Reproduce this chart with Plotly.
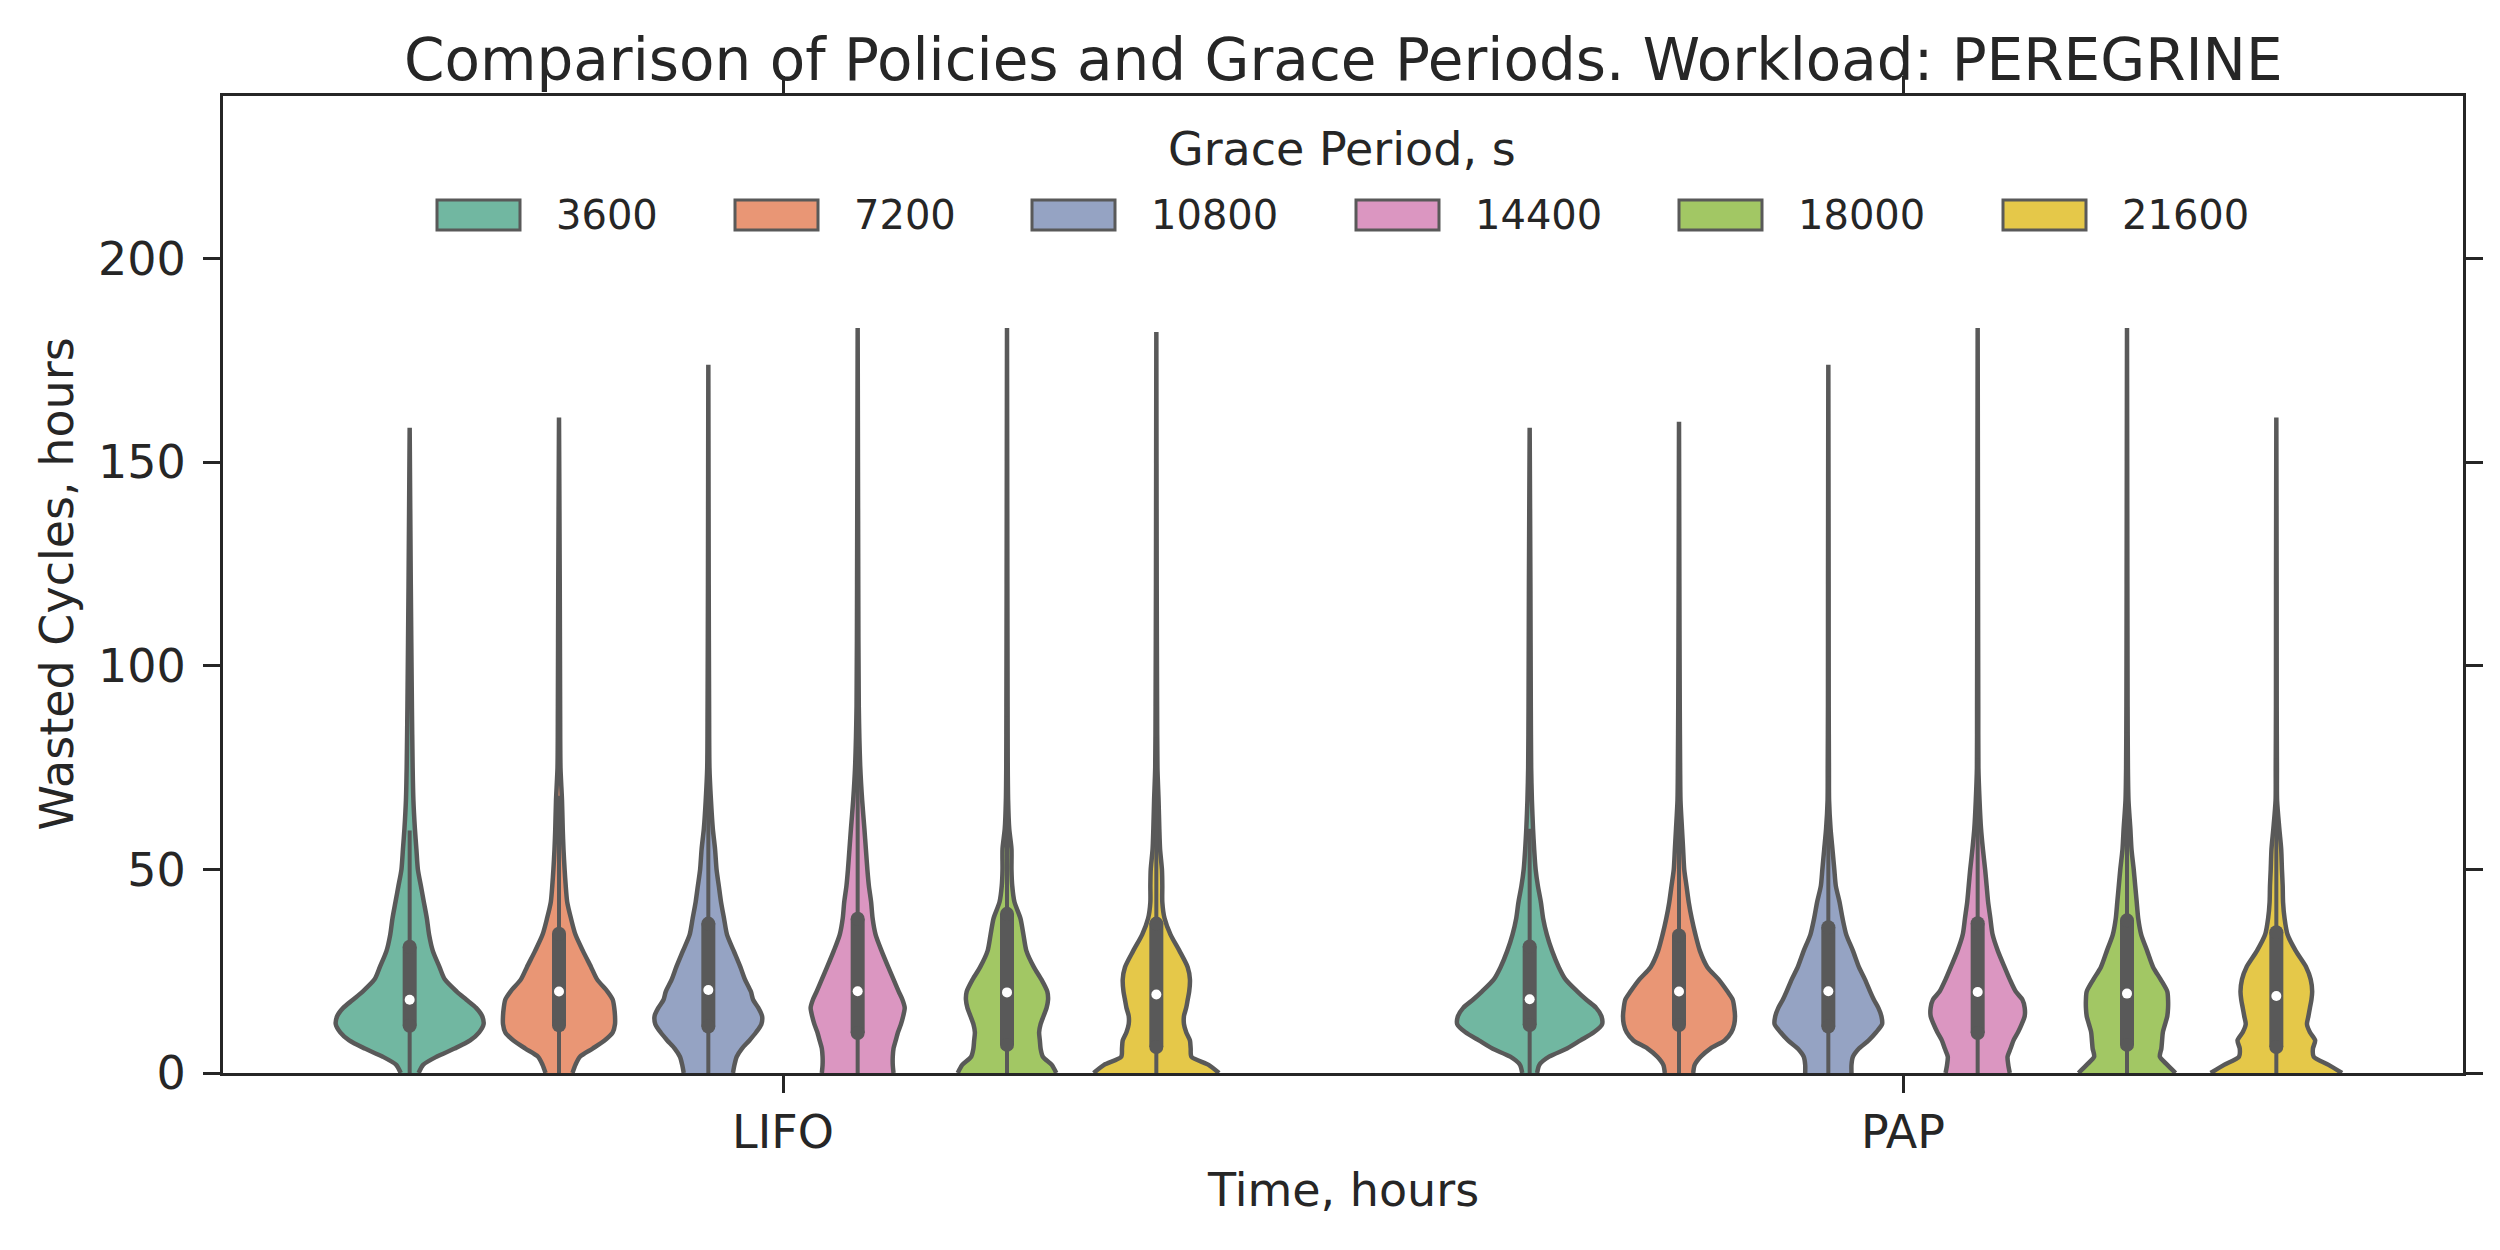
import plotly.graph_objects as go

# ---------------- data ----------------
POLICIES = ["LIFO", "PAP"]
GRACE = ["3600", "7200", "10800", "14400", "18000", "21600"]

# value levels (hours) at which violin half-widths were read
GRID_Y = [0, 2, 4, 6, 8, 10, 12, 14, 16, 18, 20, 23, 26, 30, 34, 38, 42, 46, 50, 55, 60, 67, 75, 90, 120]

# relative density (violin half-width, 1 = widest) per violin at GRID_Y
LIFO_3600 = [0.12, 0.18, 0.36, 0.60, 0.81, 0.93, 0.99, 0.97, 0.89, 0.76, 0.63, 0.47, 0.40, 0.31, 0.26, 0.23, 0.19, 0.15, 0.11, 0.09, 0.07, 0.05, 0.04, 0.03, 0.015]
LIFO_7200 = [0.18, 0.22, 0.28, 0.45, 0.61, 0.72, 0.75, 0.75, 0.74, 0.72, 0.65, 0.51, 0.43, 0.32, 0.22, 0.16, 0.11, 0.09, 0.075, 0.06, 0.05, 0.04, 0.02, 0.015, 0.01]
LIFO_10800 = [0.33, 0.35, 0.38, 0.45, 0.55, 0.64, 0.71, 0.72, 0.67, 0.60, 0.57, 0.49, 0.43, 0.34, 0.25, 0.21, 0.17, 0.14, 0.11, 0.09, 0.06, 0.035, 0.015, 0.01, 0.005]
LIFO_14400 = [0.48, 0.47, 0.47, 0.48, 0.51, 0.54, 0.58, 0.61, 0.63, 0.60, 0.55, 0.48, 0.41, 0.32, 0.24, 0.20, 0.18, 0.15, 0.13, 0.11, 0.09, 0.06, 0.035, 0.015, 0.008]
LIFO_18000 = [0.66, 0.60, 0.48, 0.45, 0.44, 0.43, 0.45, 0.49, 0.53, 0.55, 0.54, 0.46, 0.36, 0.26, 0.22, 0.18, 0.10, 0.07, 0.06, 0.06, 0.03, 0.015, 0.01, 0.008, 0.005]
LIFO_21600 = [0.84, 0.70, 0.47, 0.46, 0.45, 0.40, 0.37, 0.37, 0.40, 0.42, 0.44, 0.45, 0.42, 0.31, 0.19, 0.11, 0.08, 0.08, 0.075, 0.05, 0.04, 0.03, 0.015, 0.01, 0.005]
PAP_3600 = [0.10, 0.13, 0.26, 0.50, 0.68, 0.86, 0.97, 0.96, 0.89, 0.76, 0.64, 0.48, 0.39, 0.30, 0.23, 0.18, 0.15, 0.11, 0.08, 0.06, 0.045, 0.03, 0.02, 0.015, 0.01]
PAP_7200 = [0.19, 0.21, 0.29, 0.42, 0.61, 0.70, 0.74, 0.75, 0.74, 0.72, 0.65, 0.53, 0.38, 0.28, 0.22, 0.17, 0.13, 0.10, 0.07, 0.055, 0.04, 0.02, 0.015, 0.01, 0.005]
PAP_10800 = [0.31, 0.31, 0.33, 0.41, 0.54, 0.64, 0.72, 0.71, 0.67, 0.61, 0.56, 0.49, 0.41, 0.33, 0.24, 0.19, 0.15, 0.10, 0.08, 0.055, 0.03, 0.01, 0.008, 0.005, 0.004]
PAP_14400 = [0.43, 0.41, 0.40, 0.44, 0.48, 0.54, 0.59, 0.63, 0.63, 0.60, 0.51, 0.43, 0.36, 0.27, 0.20, 0.17, 0.14, 0.12, 0.10, 0.07, 0.045, 0.025, 0.01, 0.008, 0.005]
PAP_18000 = [0.65, 0.54, 0.44, 0.46, 0.47, 0.48, 0.51, 0.54, 0.55, 0.55, 0.54, 0.45, 0.35, 0.27, 0.19, 0.15, 0.13, 0.11, 0.09, 0.06, 0.045, 0.02, 0.012, 0.008, 0.005]
PAP_21600 = [0.88, 0.70, 0.50, 0.49, 0.52, 0.45, 0.41, 0.43, 0.45, 0.47, 0.48, 0.46, 0.40, 0.26, 0.15, 0.11, 0.09, 0.085, 0.075, 0.065, 0.04, 0.01, 0.008, 0.005, 0.004]

# maxima (violin tips), quartiles, medians, whiskers (hours)
TOP_LIFO = [158.5, 161.0, 174.0, 183.0, 183.0, 182.0]
TOP_PAP = [158.5, 160.0, 174.0, 183.0, 183.0, 161.0]
Q1_LIFO = [11.6, 11.7, 11.4, 9.8, 6.9, 6.4]
MED_LIFO = [18.0, 20.0, 20.4, 20.1, 19.8, 19.3]
Q3_LIFO = [31.0, 34.2, 36.7, 37.9, 39.1, 36.7]
WHI_LIFO = [59.6, 68.1, 74.8, 80.0, 87.5, 82.5]
WLO_LIFO = [0, 0, 0, 0, 0, 0]
Q1_PAP = [11.8, 11.8, 11.4, 9.8, 6.9, 6.4]
MED_PAP = [18.1, 20.0, 20.1, 19.9, 19.5, 18.9]
Q3_PAP = [31.1, 33.8, 35.8, 36.8, 37.5, 34.6]
WHI_PAP = [60.0, 67.0, 72.8, 77.3, 83.6, 77.3]
WLO_PAP = [0, 0, 0, 0, 0, 0]

Y_TICKS = [0, 50, 100, 150, 200]

# ---------------- styling ----------------
COLORS = ["#71b7a1", "#e99675", "#95a3c3", "#db96c1", "#a2c764", "#e5c849"]
GRAY = "#595959"
TXT = "#262626"
FONT = "DejaVu Sans"

# the page body adds an 8 px margin, so the figure is shifted by OFF
OFF = 8
W, H = 2500 - 2 * OFF, 1250 - 2 * OFF
PLOT_L, PLOT_T, PW, PH = 223, 96, 2240, 977   # plot area in page pixels
ML, MT = PLOT_L - OFF, PLOT_T - OFF
MR, MB = W - ML - PW, H - MT - PH

DODGE = 0.8
NH = len(GRACE)
SLOT = DODGE / NH
HALF = SLOT / 2.0

DENS = {
    "LIFO": [LIFO_3600, LIFO_7200, LIFO_10800, LIFO_14400, LIFO_18000, LIFO_21600],
    "PAP": [PAP_3600, PAP_7200, PAP_10800, PAP_14400, PAP_18000, PAP_21600],
}
STATS = {
    "LIFO": (TOP_LIFO, Q1_LIFO, MED_LIFO, Q3_LIFO, WLO_LIFO, WHI_LIFO),
    "PAP": (TOP_PAP, Q1_PAP, MED_PAP, Q3_PAP, WLO_PAP, WHI_PAP),
}

fig = go.Figure()

for ci, pol in enumerate(POLICIES):
    tops, q1s, meds, q3s, wlos, whis = STATS[pol]
    for hi in range(NH):
        c = ci - DODGE / 2 + SLOT * (hi + 0.5)
        dens = DENS[pol][hi]
        ys = GRID_Y + [tops[hi]]
        ws = dens + [0.0]
        xl = [c - w * HALF for w in ws]
        xr = [c + w * HALF for w in ws]
        fig.add_trace(go.Scatter(
            x=xl + xr[::-1], y=ys + ys[::-1], mode="lines", fill="toself",
            fillcolor=COLORS[hi], line=dict(color=GRAY, width=4.5, shape="spline", smoothing=0.7),
            hoverinfo="skip", showlegend=False))
        # whisker
        fig.add_trace(go.Scatter(
            x=[c, c], y=[wlos[hi], whis[hi]], mode="lines",
            line=dict(color=GRAY, width=4), hoverinfo="skip", showlegend=False))
        # box (rounded ends)
        fig.add_trace(go.Scatter(
            x=[c, c], y=[q1s[hi], q3s[hi]], mode="lines+markers",
            line=dict(color=GRAY, width=14), marker=dict(color=GRAY, size=14, line=dict(width=0)),
            hoverinfo="skip", showlegend=False))
        # median
        fig.add_trace(go.Scatter(
            x=[c], y=[meds[hi]], mode="markers",
            marker=dict(color="white", size=10, line=dict(width=0)),
            hoverinfo="skip", showlegend=False))

axis_common = dict(
    showline=True, linecolor=TXT, linewidth=3, mirror="ticks",
    ticks="outside", ticklen=17, tickwidth=3, tickcolor=TXT,
    showgrid=False, zeroline=False,
    tickfont=dict(family=FONT, size=46, color=TXT),
)
fig.update_xaxes(range=[-0.5, 1.5], tickvals=list(range(len(POLICIES))), ticktext=POLICIES,
                 ticklabelstandoff=0, **axis_common)
fig.update_yaxes(range=[0, 240], tickvals=Y_TICKS, ticklabelstandoff=8, **axis_common)

def px_x(p):
    return (p - PLOT_L) / PW

def px_y(p):
    return (PLOT_T + PH - p) / PH

ann = []
ann.append(dict(text="Comparison of Policies and Grace Periods. Workload: PEREGRINE",
                x=0.5, y=px_y(60), xref="paper", yref="paper", xanchor="center", yanchor="middle",
                showarrow=False, font=dict(family=FONT, size=58, color=TXT)))
ann.append(dict(text="Time, hours", x=0.5, y=px_y(1190), xref="paper", yref="paper",
                xanchor="center", yanchor="middle", showarrow=False,
                font=dict(family=FONT, size=46, color=TXT)))
ann.append(dict(text="Wasted Cycles, hours", x=px_x(56), y=0.5, xref="paper", yref="paper",
                xanchor="center", yanchor="middle", textangle=-90, showarrow=False,
                font=dict(family=FONT, size=46, color=TXT)))
ann.append(dict(text="Grace Period, s", x=px_x(1342), y=px_y(149), xref="paper", yref="paper",
                xanchor="center", yanchor="middle", showarrow=False,
                font=dict(family=FONT, size=46, color=TXT)))

# legend (manual, one row)
LEG_X = [437, 735, 1032, 1356, 1679, 2003]
PATCH_W, PATCH_H, LEG_CY = 83, 30, 215
shapes = []
for hi, lab in enumerate(GRACE):
    x0 = LEG_X[hi]
    shapes.append(dict(type="rect", xref="paper", yref="paper",
                       x0=px_x(x0), x1=px_x(x0 + PATCH_W),
                       y0=px_y(LEG_CY - PATCH_H / 2), y1=px_y(LEG_CY + PATCH_H / 2),
                       fillcolor=COLORS[hi], line=dict(color=GRAY, width=3)))
    ann.append(dict(text=lab, x=px_x(x0 + PATCH_W + 34), y=px_y(LEG_CY), xref="paper", yref="paper",
                    xanchor="left", yanchor="middle", showarrow=False,
                    font=dict(family=FONT, size=40, color=TXT)))

fig.update_layout(
    width=W, height=H, margin=dict(l=ML, r=MR, t=MT, b=MB, autoexpand=False),
    paper_bgcolor="white", plot_bgcolor="white", showlegend=False,
    annotations=ann, shapes=shapes,
)

fig.write_html("out.html")
